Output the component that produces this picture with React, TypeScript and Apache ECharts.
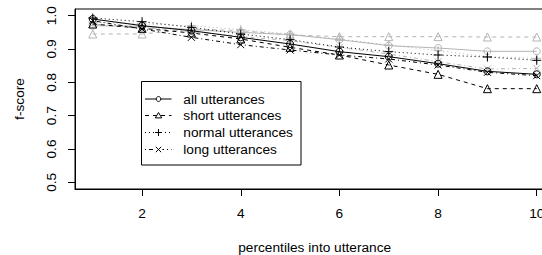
import React, { useEffect, useRef } from "react";
import * as echarts from "echarts";

const percentiles = [1, 2, 3, 4, 5, 6, 7, 8, 9, 10];
const xTicks = [2, 4, 6, 8, 10];
const yTicks = [0.5, 0.6, 0.7, 0.8, 0.9, 1.0];

const allBlack = [0.99, 0.97, 0.955, 0.935, 0.915, 0.892, 0.877, 0.856, 0.833, 0.824];
const shortBlack = [0.975, 0.962, 0.948, 0.93, 0.905, 0.882, 0.852, 0.824, 0.781, 0.781];
const normalBlack = [0.993, 0.982, 0.965, 0.945, 0.928, 0.906, 0.892, 0.882, 0.876, 0.866];
const longBlack = [0.985, 0.96, 0.935, 0.913, 0.897, 0.882, 0.87, 0.852, 0.83, 0.82];

const allGray = [0.97, 0.968, 0.958, 0.95, 0.943, 0.928, 0.91, 0.903, 0.893, 0.893];
const shortGray = [0.945, 0.945, 0.96, 0.955, 0.942, 0.937, 0.937, 0.937, 0.936, 0.936];
const normalGray = [0.98, 0.975, 0.97, 0.958, 0.945, 0.93, 0.912, 0.895, 0.877, 0.872];
const longGray = [0.975, 0.965, 0.952, 0.938, 0.925, 0.905, 0.885, 0.862, 0.84, 0.842];

const legendNames = ["all utterances", "short utterances", "normal utterances", "long utterances"];

const FONT = "'Liberation Sans', Arial, Helvetica, sans-serif";
const FS = 13.7;
const GRAY = "#b4b4b4";
const BLACK = "#000000";

const PLUS = "path://M5,0L5,10M0,5L10,5";
const CROSS = "path://M0,0L10,10M10,0L0,10";

const kinds = [
  { symbol: "circle", size: 7, dash: "solid" as any },
  { symbol: "triangle", size: 8, dash: [4, 4] },
  { symbol: PLUS, size: 9, dash: [1, 3] },
  { symbol: CROSS, size: 7, dash: [1, 3, 4, 3] },
];

function mk(name: string, values: number[], kind: number, color: string, z: number) {
  const k = kinds[kind];
  return {
    name,
    type: "line",
    data: values.map((v, i) => [percentiles[i], v]),
    symbol: k.symbol,
    symbolSize: k.size,
    showSymbol: true,
    z,
    lineStyle: { color, width: 1, type: k.dash },
    itemStyle: { color: "rgba(0,0,0,0)", borderColor: color, borderWidth: 1 },
    emphasis: { disabled: true },
    silent: true,
  };
}

export default function App() {
  const ref = useRef<HTMLDivElement>(null);
  useEffect(() => {
    document.body.style.margin = "0";
    const chart = echarts.init(ref.current!, null, { renderer: "svg" });

    const lx0 = 145, lx1 = 171.5, sx = 158.5, tx = 183.3;
    const rows = [99, 115.5, 132.5, 149.5];
    const legendChildren: any[] = [
      { type: "rect", shape: { x: 141.5, y: 81.5, width: 159.5, height: 83.5 }, style: { fill: "#fff", stroke: BLACK, lineWidth: 1 } },
    ];
    rows.forEach((ry, i) => {
      const dash = kinds[i].dash;
      legendChildren.push({
        type: "line",
        shape: { x1: lx0, y1: ry, x2: lx1, y2: ry },
        style: { stroke: BLACK, lineWidth: 1, lineDash: Array.isArray(dash) ? dash : null },
      });
      if (i === 0) {
        legendChildren.push({ type: "circle", shape: { cx: sx, cy: ry, r: 2.4 }, style: { fill: "#fff", stroke: BLACK, lineWidth: 1 } });
      } else if (i === 1) {
        legendChildren.push({ type: "polygon", shape: { points: [[sx, ry - 3], [sx + 3.2, ry + 2.4], [sx - 3.2, ry + 2.4]] }, style: { fill: "#fff", stroke: BLACK, lineWidth: 1 } });
      } else if (i === 2) {
        legendChildren.push({ type: "rect", shape: { x: sx - 4, y: ry - 4, width: 8, height: 8 }, style: { fill: "#fff", stroke: null } });
        legendChildren.push({ type: "line", shape: { x1: sx - 3.5, y1: ry, x2: sx + 3.5, y2: ry }, style: { stroke: BLACK, lineWidth: 1 } });
        legendChildren.push({ type: "line", shape: { x1: sx, y1: ry - 3.5, x2: sx, y2: ry + 3.5 }, style: { stroke: BLACK, lineWidth: 1 } });
      } else {
        legendChildren.push({ type: "rect", shape: { x: sx - 4, y: ry - 4, width: 8, height: 8 }, style: { fill: "#fff", stroke: null } });
        legendChildren.push({ type: "line", shape: { x1: sx - 2.7, y1: ry - 2.7, x2: sx + 2.7, y2: ry + 2.7 }, style: { stroke: BLACK, lineWidth: 1 } });
        legendChildren.push({ type: "line", shape: { x1: sx + 2.7, y1: ry - 2.7, x2: sx - 2.7, y2: ry + 2.7 }, style: { stroke: BLACK, lineWidth: 1 } });
      }
      legendChildren.push({
        type: "text",
        x: tx,
        y: ry,
        style: { text: legendNames[i], fill: BLACK, font: `${FS}px ${FONT}`, verticalAlign: "middle", align: "left" },
      });
    });

    chart.setOption({
      animation: false,
      backgroundColor: "#fff",
      grid: { left: 75, top: 9, width: 479.5, height: 180, show: true, borderColor: BLACK, borderWidth: 1, containLabel: false },
      xAxis: {
        type: "value",
        min: 0.64,
        max: 10.36,
        splitLine: { show: false },
        axisLine: { show: true, lineStyle: { color: BLACK, width: 1 } },
        axisTick: { show: true, length: 7, inside: false, customValues: xTicks, lineStyle: { color: BLACK } },
        axisLabel: { customValues: xTicks, margin: 17, color: BLACK, fontSize: FS, fontFamily: FONT },
      },
      yAxis: {
        type: "value",
        min: 0.48,
        max: 1.02,
        splitLine: { show: false },
        axisLine: { show: true, lineStyle: { color: BLACK, width: 1 } },
        axisTick: { show: true, length: 7, inside: false, customValues: yTicks, lineStyle: { color: BLACK } },
        axisLabel: {
          customValues: yTicks,
          rotate: 90,
          margin: 17,
          color: BLACK,
          fontSize: FS,
          fontFamily: FONT,
          formatter: (v: number) => v.toFixed(1),
        },
      },
      series: [
        mk("all utterances (gray)", allGray, 0, GRAY, 2),
        mk("short utterances (gray)", shortGray, 1, GRAY, 2),
        mk("normal utterances (gray)", normalGray, 2, GRAY, 2),
        mk("long utterances (gray)", longGray, 3, GRAY, 2),
        mk(legendNames[0], allBlack, 0, BLACK, 3),
        mk(legendNames[1], shortBlack, 1, BLACK, 3),
        mk(legendNames[2], normalBlack, 2, BLACK, 3),
        mk(legendNames[3], longBlack, 3, BLACK, 3),
      ],
      graphic: [
        { type: "group", z: 100, children: legendChildren },
        {
          type: "text",
          x: 314.7,
          y: 247,
          style: { text: "percentiles into utterance", fill: BLACK, font: `${FS}px ${FONT}`, align: "center", verticalAlign: "middle" },
        },
        {
          type: "text",
          x: 19,
          y: 99,
          rotation: Math.PI / 2,
          style: { text: "f-score", fill: BLACK, font: `${FS}px ${FONT}`, align: "center", verticalAlign: "middle" },
        },
      ],
    });
    return () => chart.dispose();
  }, []);
  return (
    <div style={{ width: 542, height: 255, overflow: "hidden", position: "relative" }}>
      <div ref={ref} style={{ width: 570, height: 255 }} />
    </div>
  );
}
